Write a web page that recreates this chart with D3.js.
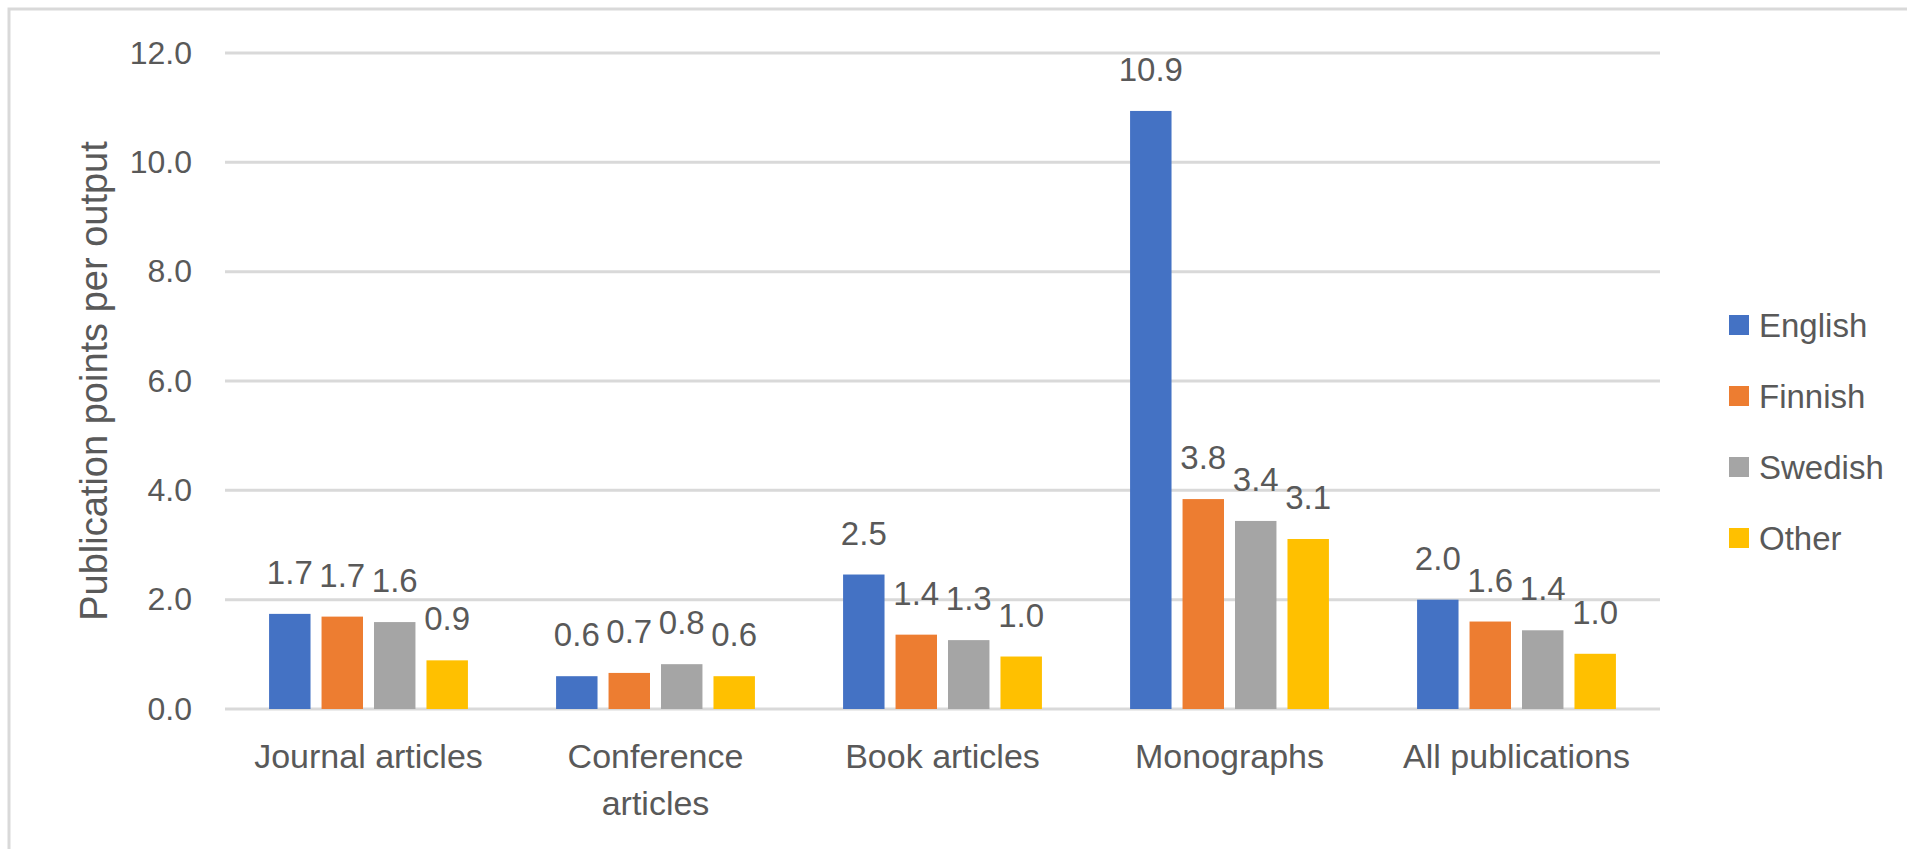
<!DOCTYPE html>
<html>
<head>
<meta charset="utf-8">
<script src="https://cdn.jsdelivr.net/npm/d3@7"></script>
<style>
  html, body { margin: 0; padding: 0; background: #fff; }
  svg { display: block; }
  text { font-family: "Liberation Sans", Arial, sans-serif; fill: #595959; }
</style>
</head>
<body>
<svg id="chart" width="1907" height="849"></svg>
<script>
const categories = ["Journal articles", "Conference articles", "Book articles", "Monographs", "All publications"];
const series = ["English", "Finnish", "Swedish", "Other"];
const colors = ["#4472C4", "#ED7D31", "#A5A5A5", "#FFC000"];
const english = [1.74, 0.60, 2.46, 10.94, 2.00];
const finnish = [1.69, 0.66, 1.36, 3.84, 1.60];
const swedish = [1.59, 0.82, 1.26, 3.44, 1.44];
const other   = [0.89, 0.60, 0.96, 3.11, 1.01];
const yTicks = [0, 2, 4, 6, 8, 10, 12];
const yTitle = "Publication points per output";

const values = [english, finnish, swedish, other];

const svg = d3.select("#chart");

// chart border (cropped at right/bottom)
svg.append("rect")
  .attr("x", 9).attr("y", 9).attr("width", 2000).attr("height", 1000)
  .attr("fill", "none").attr("stroke", "#d9d9d9").attr("stroke-width", 3);

const x = d3.scaleBand().domain(categories).range([225, 1660]).paddingInner(0).paddingOuter(0);
const xs = d3.scaleBand().domain(series).range([0, x.bandwidth()]).paddingInner(0.21).paddingOuter(0.84);
const y = d3.scaleLinear().domain([0, 12]).range([709, 53]);

// gridlines
svg.append("g").selectAll("line").data(yTicks).join("line")
  .attr("x1", 225).attr("x2", 1660)
  .attr("y1", d => y(d)).attr("y2", d => y(d))
  .attr("stroke", "#d9d9d9").attr("stroke-width", 3);

// y axis tick labels
const yAxis = d3.axisLeft(y).tickValues(yTicks).tickFormat(d3.format(".1f")).tickSize(0).tickPadding(0);
const ya = svg.append("g").attr("transform", "translate(192,0)").call(yAxis);
ya.select(".domain").remove();
ya.selectAll("text").attr("font-size", 32).attr("fill", "#595959")
  .style("font-family", "'Liberation Sans', Arial, sans-serif");

// y title
svg.append("text")
  .attr("transform", "translate(107,381) rotate(-90)")
  .attr("text-anchor", "middle")
  .attr("font-size", 38)
  .text(yTitle);

// bars
const data = [];
categories.forEach((c, i) => series.forEach((s, j) => data.push({ c, s, v: values[j][i], color: colors[j] })));

const groups = svg.append("g");
groups.selectAll("rect").data(data).join("rect")
  .attr("x", d => x(d.c) + xs(d.s))
  .attr("width", xs.bandwidth())
  .attr("y", d => y(d.v))
  .attr("height", d => y(0) - y(d.v))
  .attr("fill", d => d.color);

// value labels
groups.selectAll("text").data(data).join("text")
  .attr("x", d => x(d.c) + xs(d.s) + xs.bandwidth() / 2)
  .attr("y", d => y(d.v) - 30)
  .attr("text-anchor", "middle")
  .attr("font-size", 33)
  .attr("fill", "#404040")
  .text(d => d3.format(".1f")(d.v));

// x axis labels
const xAxis = d3.axisBottom(x).tickSize(0).tickPadding(0);
const xa = svg.append("g").call(xAxis);
xa.select(".domain").remove();
xa.selectAll(".tick text").remove();
xa.selectAll(".tick").each(function(d) {
  const t = d3.select(this).append("text")
    .attr("text-anchor", "middle")
    .attr("font-size", 34)
    .attr("fill", "#595959")
    .style("font-family", "'Liberation Sans', Arial, sans-serif");
  const lines = d === "Conference articles" ? ["Conference", "articles"] : [d];
  lines.forEach((ln, k) => t.append("tspan").attr("x", 0).attr("y", 768 + k * 47).text(ln));
});

// legend
const legend = svg.append("g");
series.forEach((s, j) => {
  const cy = 325 + j * 71;
  legend.append("rect").attr("x", 1729).attr("y", cy - 10).attr("width", 20).attr("height", 20).attr("fill", colors[j]);
  legend.append("text").attr("x", 1759).attr("y", cy + 12).attr("font-size", 33).text(s);
});
</script>
</body>
</html>
